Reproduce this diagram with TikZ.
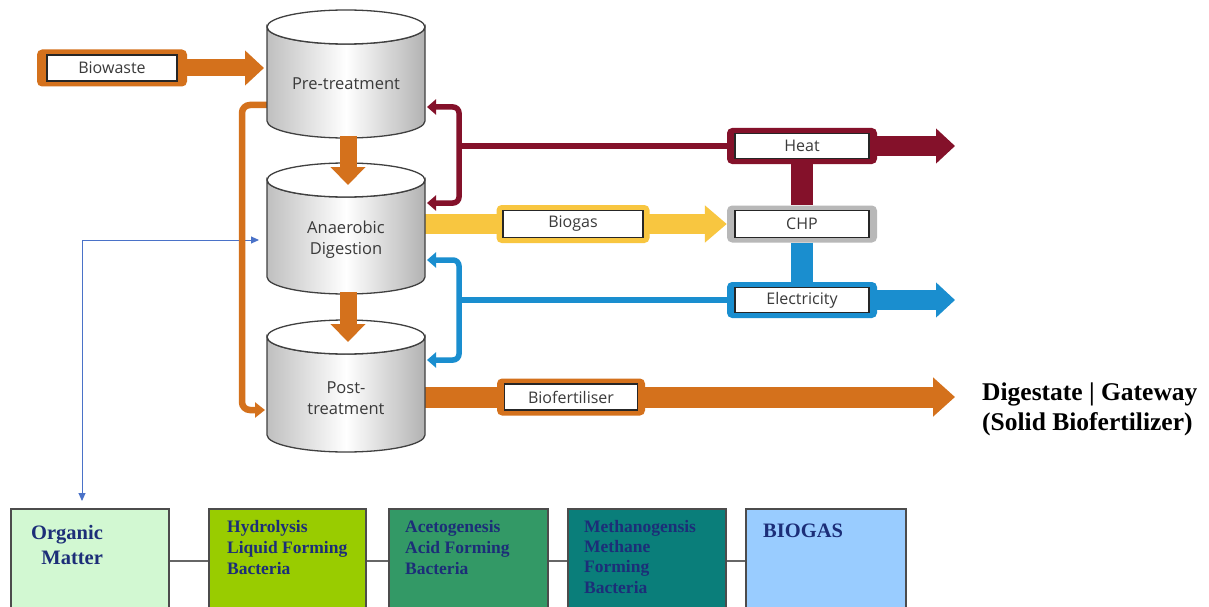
\documentclass[tikz,border=0pt]{standalone}
\usepackage{fontspec}
\setmainfont{Liberation Serif}
\newfontfamily\labfont{Open Sans}
\usetikzlibrary{arrows.meta,backgrounds}
\definecolor{org}{HTML}{D4711C}
\definecolor{heatc}{HTML}{84112A}
\definecolor{gasc}{HTML}{F8C640}
\definecolor{elc}{HTML}{1A8ECF}
\definecolor{chpc}{HTML}{B8B8B8}
\definecolor{thinb}{HTML}{4A72C8}
\definecolor{navy}{HTML}{1C2E78}
\definecolor{txtg}{HTML}{3A3A3A}
\definecolor{omc}{HTML}{D2F8D2}
\definecolor{hyc}{HTML}{99CC00}
\definecolor{acc}{HTML}{339966}
\definecolor{mec}{HTML}{0A7E7A}
\definecolor{bgc}{HTML}{99CCFF}
\newcommand\mycyl[3]{%
  \path[cylbody] (#1-79,#2) -- (#1-79,#3)
    arc[start angle=180,end angle=0,x radius=79,y radius=17]
    -- (#1+79,#2)
    arc[start angle=0,end angle=180,x radius=79,y radius=17] -- cycle;
  \draw[cyltop] (#1,#2) ellipse[x radius=79,y radius=17];
}
\begin{document}
\begin{tikzpicture}[x=1pt,y=-1pt,
  cylbody/.style={left color=gray!50,right color=gray!60,middle color=white,draw=black!75,line width=1.3pt},
  cyltop/.style={fill=white,draw=black!75,line width=1.3pt},
  cyltext/.style={font=\labfont\fontsize{16.5}{21}\selectfont,text=txtg,align=center,minimum width=158pt,inner sep=0pt},
  outerf/.style={fill=#1,rounded corners=5pt,minimum width=150pt,minimum height=37pt,inner sep=0pt},
  innerb/.style={fill=white,draw=black!85,line width=1.2pt,minimum width=134pt,minimum height=25pt,font=\labfont\fontsize{16}{18}\selectfont,text=txtg,inner sep=0pt},
  bigarrow/.style={draw=#1,line width=18pt,-{Triangle[length=19pt,width=34pt]}},
  bar/.style={draw=#1,line width=22pt},
  bracket/.style={draw=#1,line width=5.5pt,rounded corners=6pt},
  smalltip/.style={{Triangle[length=9pt,width=15pt]}-{Triangle[length=9pt,width=15pt]}},
  bbox/.style={fill=#1,draw=black!70,line width=1.5pt,minimum width=158pt,minimum height=104pt,anchor=north west,inner sep=0pt},
  btext/.style={anchor=north west,align=left,text=navy,font=\bfseries\fontsize{17.5}{21}\selectfont,inner sep=0pt},
  conn/.style={draw=black!60,line width=2.5pt}
]
\useasboundingbox (0,0) rectangle (1209,607);
\clip (0,0) rectangle (1209,607);

% cylinders
\mycyl{346}{27}{121}
\node[cyltext] (pre) at (346,84) {Pre-treatment};
\mycyl{346}{180}{277}
\node[cyltext] (ad) at (346,240) {Anaerobic\\Digestion};
\mycyl{346}{337}{435}
\node[cyltext] (post) at (346,398) {Post-\\treatment};

% framed labels
\node[outerf=org] (bwf) at (112,68) {};
\node[innerb,minimum width=130pt,minimum height=26pt] (bw) at (bwf) {Biowaste};
\node[outerf=heatc,minimum height=36pt] (heatf) at (802,146) {};
\node[innerb] (heat) at (heatf) {Heat};
\node[outerf=chpc] (chpf) at (802,224) {};
\node[innerb,minimum height=27pt] (chp) at (chpf) {CHP};
\node[outerf=elc,minimum height=36pt] (elf) at (802,300) {};
\node[innerb] (el) at (elf) {Electricity};
\node[outerf=gasc,minimum width=153pt,minimum height=38pt] (gasf) at (573,224) {};
\node[innerb,minimum width=140pt,minimum height=27pt] (gas) at (gasf) {Biogas};
\node[outerf=org,minimum width=148pt] (bff) at (571,397) {};
\node[innerb,minimum width=133pt,minimum height=26pt] (bf) at (bff) {Biofertiliser};

% coordinates
\coordinate (prein) at (264,68);
\coordinate (preB) at (348,136);
\coordinate (adT) at (348,185);
\coordinate (adB) at (348,292);
\coordinate (postT) at (348,342);
\coordinate (preH) at (427,107);
\coordinate (adH) at (427,203);
\coordinate (adE) at (427,260);
\coordinate (postE) at (427,360);
\coordinate (adG) at (420,224);
\coordinate (postF) at (420,397);
\coordinate (heatout) at (955,146);
\coordinate (elout) at (955,300);
\coordinate (bfout) at (955,397);
\coordinate (preL) at (268,105);
\coordinate (postL) at (265,410);

% bottom boxes
\node[bbox=omc] (om) at (10,508) {};
\node[bbox=hyc,minimum width=157pt] (hy) at (208,508) {};
\node[bbox=acc,minimum width=159pt] (ac) at (388,508) {};
\node[bbox=mec] (me) at (567,508) {};
\node[bbox=bgc,minimum width=160pt] (bg) at (745,508) {};
\node[align=center,text=navy,font=\bfseries\fontsize{20.5}{25}\selectfont,inner sep=0pt] (omt) at (67,545) {Organic\\\ \ Matter};
\node[btext] (hyt) at (227,520) {Hydrolysis\\Liquid Forming\\Bacteria};
\node[btext] (act) at (405,520) {Acetogenesis\\Acid Forming\\Bacteria};
\node[btext,font=\bfseries\fontsize{17.5}{20.3}\selectfont] (met) at (584,520) {Methanogensis\\Methane\\Forming\\Bacteria};
\node[btext,font=\bfseries\fontsize{20.5}{24}\selectfont] (bgt) at (763,524) {BIOGAS};
\draw[conn] (om.east) -- (hy.west);
\draw[conn] (hy.east) -- (ac.west);
\draw[conn] (ac.east) -- (me.west);
\draw[conn] (me.east) -- (bg.west);

% right text
\node[anchor=west,align=left,font=\bfseries\fontsize{25.5}{30}\selectfont,inner sep=0pt] (dig) at (982,409) {Digestate | Gateway\\(Solid Biofertilizer)};

% connectors behind
\begin{scope}[on background layer]
  \fill[white] (0,0) rectangle (1209,607);
  \draw[thinb,line width=1pt,{Triangle[length=8pt,width=7pt]}-{Triangle[length=8pt,width=7pt]}] (82,501) |- (259,240);
  \draw[org,line width=6.5pt,rounded corners=8pt,-{Triangle[length=10pt,width=15pt]}] (preL) -| (242,410) -- (postL);
  \draw[bigarrow=gasc,line width=20pt,-{Triangle[length=22pt,width=36pt]}] (adG) -- (chpf.west);
  \draw[bigarrow=org,line width=21pt,-{Triangle[length=22pt,width=38pt]}] (postF) -- (bfout);
\end{scope}

% foreground connectors
\draw[bigarrow=org,line width=17pt] (bwf.east) -- (prein);
\draw[bigarrow=org,line width=17pt,-{Triangle[length=18pt,width=34pt]}] (preB) -- (adT);
\draw[bigarrow=org,line width=17pt,-{Triangle[length=18pt,width=34pt]}] (adB) -- (postT);
\draw[bigarrow=heatc,line width=20pt] (heatf.east) -- (heatout);
\draw[bigarrow=elc,line width=20pt] (elf.east) -- (elout);
\draw[bar=heatc] (heatf.south) -- (chpf.north);
\draw[bar=elc] (chpf.south) -- (elf.north);
\draw[bracket=heatc] (heatf.west) -- (459,146);
\draw[bracket=heatc,smalltip] (preH) -- (459,107) -- (459,203) -- (adH);
\draw[bracket=elc] (elf.west) -- (459,300);
\draw[bracket=elc,smalltip] (adE) -- (459,260) -- (459,360) -- (postE);
\end{tikzpicture}
\end{document}
